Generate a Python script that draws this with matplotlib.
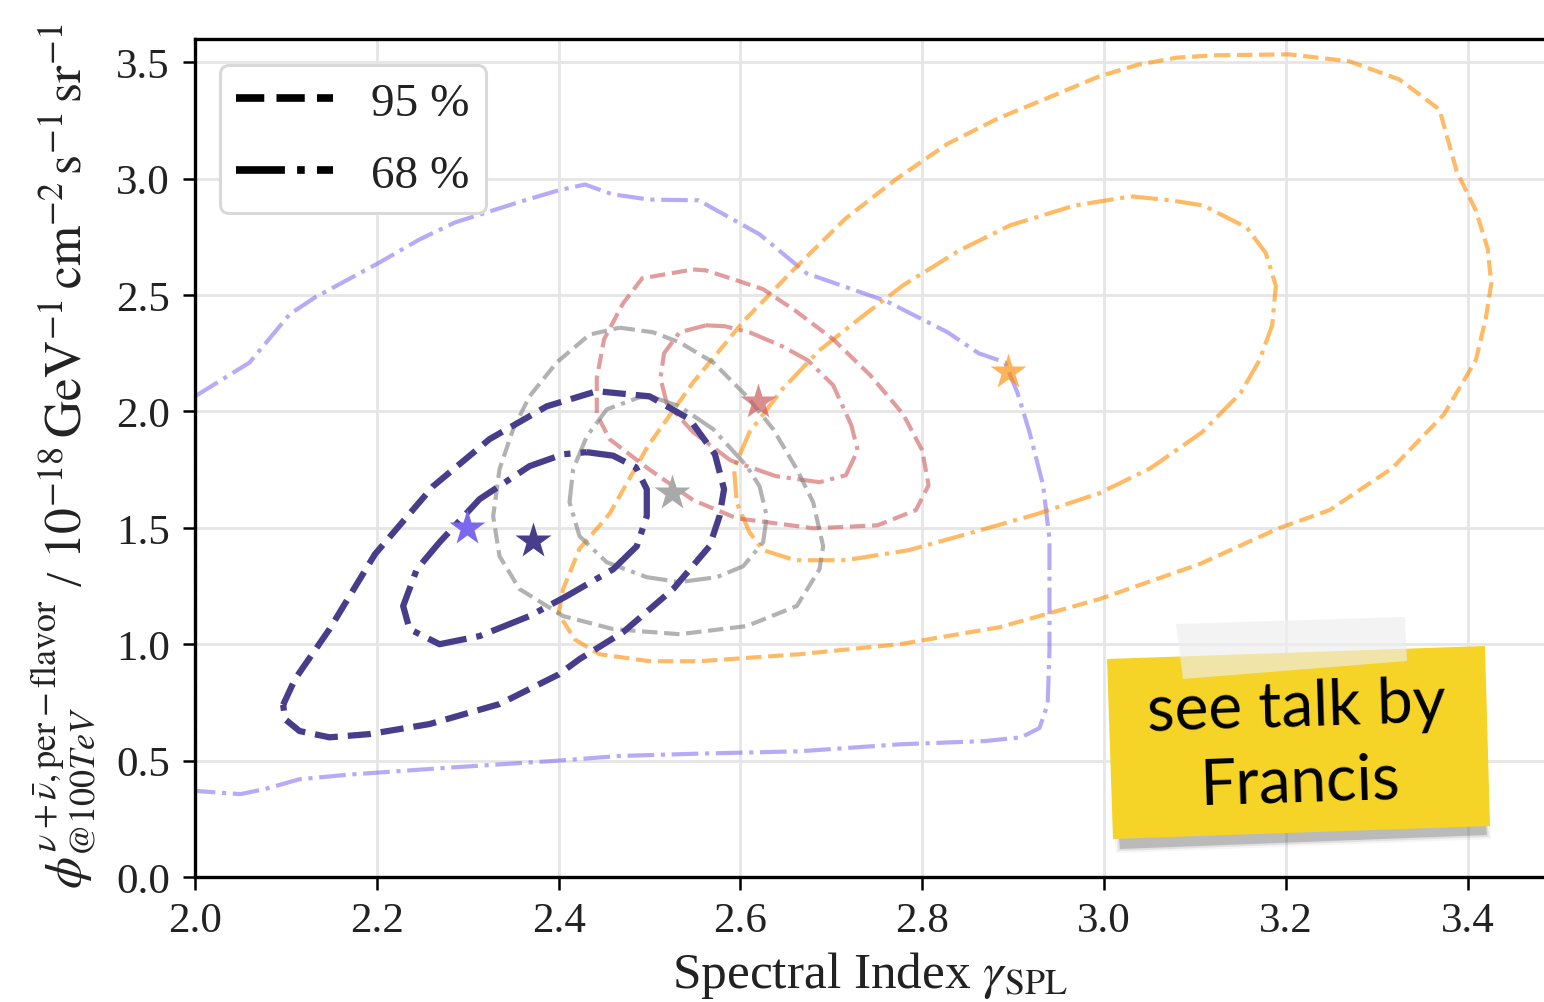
import matplotlib
matplotlib.use("Agg")
import matplotlib.pyplot as plt
from matplotlib.lines import Line2D
from matplotlib.patches import Polygon

# ==========================================
# CONTOUR DATA (gamma, phi)
# ==========================================

navy95_x = [2.097, 2.110, 2.148, 2.198, 2.262, 2.324, 2.387, 2.442, 2.500, 2.544, 2.572, 2.582,
            2.577, 2.566, 2.526, 2.471, 2.423, 2.400, 2.335, 2.258, 2.192, 2.148, 2.115, 2.099]
navy95_y = [0.740, 0.850, 1.065, 1.387, 1.679, 1.881, 2.022, 2.087, 2.065, 1.967, 1.816, 1.666,
            1.550, 1.421, 1.237, 1.052, 0.936, 0.870, 0.743, 0.657, 0.614, 0.600, 0.627, 0.678]

navy68_x = [2.431, 2.460, 2.485, 2.497, 2.497, 2.486, 2.460, 2.409, 2.368, 2.313, 2.269, 2.236,
            2.229, 2.244, 2.269, 2.313, 2.368, 2.405]
navy68_y = [1.825, 1.810, 1.760, 1.666, 1.550, 1.421, 1.322, 1.207, 1.121, 1.035, 1.000, 1.065,
            1.164, 1.322, 1.438, 1.623, 1.765, 1.816]

lp68_x = [2.000, 2.060, 2.077, 2.104, 2.132, 2.203, 2.247, 2.286, 2.357, 2.400, 2.429, 2.459,
          2.500, 2.554, 2.621, 2.673, 2.761, 2.828, 2.862, 2.891, 2.905, 2.918, 2.933, 2.940,
          2.940, 2.940, 2.938, 2.929, 2.909, 2.869, 2.775, 2.665, 2.555, 2.467, 2.400, 2.280,
          2.170, 2.115, 2.077, 2.050, 2.000]
lp68_y = [2.065, 2.210, 2.290, 2.417, 2.490, 2.640, 2.739, 2.812, 2.900, 2.950, 2.975, 2.933,
          2.910, 2.907, 2.761, 2.593, 2.473, 2.340, 2.250, 2.211, 2.078, 1.911, 1.683, 1.451,
          1.194, 0.980, 0.743, 0.640, 0.600, 0.584, 0.570, 0.540, 0.530, 0.520, 0.500, 0.470,
          0.440, 0.420, 0.378, 0.356, 0.370]

gray95_x = [2.467, 2.504, 2.533, 2.570, 2.607, 2.636, 2.662, 2.680, 2.691, 2.687, 2.662, 2.607,
            2.533, 2.460, 2.405, 2.357, 2.335, 2.328, 2.335, 2.350, 2.368, 2.398, 2.434]
gray95_y = [2.360, 2.340, 2.297, 2.211, 2.065, 1.924, 1.752, 1.610, 1.421, 1.322, 1.164, 1.078,
            1.043, 1.065, 1.121, 1.237, 1.378, 1.550, 1.752, 1.924, 2.065, 2.211, 2.330]

gray68_x = [2.504, 2.533, 2.570, 2.607, 2.621, 2.629, 2.625, 2.603, 2.574, 2.533, 2.497, 2.453,
            2.423, 2.412, 2.416, 2.431, 2.453, 2.489]
gray68_y = [2.061, 2.022, 1.924, 1.765, 1.679, 1.550, 1.438, 1.335, 1.288, 1.267, 1.288, 1.352,
            1.464, 1.610, 1.752, 1.893, 2.009, 2.061]

pink95_x = [2.548, 2.562, 2.589, 2.625, 2.660, 2.702, 2.743, 2.779, 2.800, 2.807, 2.793, 2.751,
            2.681, 2.596, 2.548, 2.498, 2.456, 2.442, 2.442, 2.450, 2.471, 2.492]
pink95_y = [2.610, 2.606, 2.572, 2.525, 2.434, 2.310, 2.155, 1.988, 1.833, 1.683, 1.576, 1.511,
            1.498, 1.541, 1.619, 1.756, 1.881, 1.988, 2.143, 2.310, 2.465, 2.572]

pink68_x = [2.562, 2.583, 2.610, 2.646, 2.674, 2.702, 2.722, 2.729, 2.716, 2.687, 2.639, 2.589,
            2.548, 2.519, 2.512, 2.516, 2.533]
pink68_y = [2.370, 2.366, 2.340, 2.280, 2.220, 2.113, 1.941, 1.833, 1.726, 1.696, 1.722, 1.790,
            1.911, 2.035, 2.143, 2.250, 2.340]

orange95_x = [3.122, 3.204, 3.270, 3.325, 3.369, 3.388, 3.409, 3.422, 3.426, 3.420, 3.409, 3.374,
              3.317, 3.248, 3.192, 3.105, 2.995, 2.885, 2.775, 2.665, 2.555, 2.500, 2.445, 2.418,
              2.400, 2.405, 2.423, 2.456, 2.498, 2.548, 2.604, 2.660, 2.716, 2.772, 2.828, 2.884,
              2.940, 2.995, 3.038, 3.080]
orange95_y = [3.530, 3.534, 3.504, 3.426, 3.297, 3.031, 2.864, 2.700, 2.550, 2.400, 2.220, 1.988,
              1.756, 1.576, 1.498, 1.344, 1.194, 1.073, 1.000, 0.957, 0.927, 0.927, 0.957, 1.020,
              1.130, 1.237, 1.410, 1.560, 1.850, 2.125, 2.390, 2.615, 2.830, 3.000, 3.150, 3.260,
              3.350, 3.440, 3.490, 3.520]

orange68_x = [3.030, 3.073, 3.109, 3.157, 3.178, 3.189, 3.185, 3.171, 3.150, 3.108, 3.051, 2.995,
              2.926, 2.856, 2.785, 2.716, 2.660, 2.625, 2.610, 2.596, 2.593, 2.610, 2.646, 2.687,
              2.737, 2.779, 2.841, 2.897, 2.968]
orange68_y = [2.924, 2.907, 2.885, 2.790, 2.680, 2.540, 2.370, 2.220, 2.078, 1.911, 1.756, 1.649,
              1.559, 1.481, 1.404, 1.361, 1.361, 1.404, 1.481, 1.606, 1.756, 1.911, 2.095, 2.263,
              2.417, 2.542, 2.692, 2.800, 2.885]

# best fit points
best_x = [2.299, 2.372, 2.525, 2.619, 2.894]
best_y = [1.499, 1.443, 1.649, 2.040, 2.168]
best_colors = ["mediumslateblue", "darkslateblue", "darkgray", "indianred", "darkorange"]
best_alpha = [1.0, 1.0, 1.0, 0.7, 0.65]

legend_labels = ["95 %", "68 %"]


def closed(xs, ys):
    return xs + xs[:1], ys + ys[:1]


# ==========================================
# STYLE
# ==========================================

plt.rcParams["font.family"] = "serif"
plt.rcParams["font.serif"] = ["Liberation Serif", "DejaVu Serif"]
plt.rcParams["mathtext.fontset"] = "stix"

fig = plt.figure(figsize=(15.44, 10.03), dpi=100)
ax = fig.add_axes([195 / 1544, 1 - 878 / 1003, 1 - 195 / 1544, (878 - 40) / 1003])

ax.grid(True, color="#e6e6e6", linewidth=2.0, zorder=0)
ax.set_axisbelow(True)

# ==========================================
# CONTOURS
# ==========================================

thin = 3.0

ax.plot(*closed(lp68_x, lp68_y), color="mediumslateblue", alpha=0.55, lw=thin, ls="-.")

ax.plot(*closed(orange95_x, orange95_y), color="darkorange", alpha=0.6, lw=thin, ls="--")
ax.plot(*closed(orange68_x, orange68_y), color="darkorange", alpha=0.6, lw=thin, ls="-.")

ax.plot(*closed(pink95_x, pink95_y), color="indianred", alpha=0.6, lw=thin, ls="--")
ax.plot(*closed(pink68_x, pink68_y), color="indianred", alpha=0.6, lw=thin, ls="-.")

ax.plot(*closed(gray95_x, gray95_y), color="gray", alpha=0.6, lw=thin, ls="--")
ax.plot(*closed(gray68_x, gray68_y), color="gray", alpha=0.6, lw=thin, ls="-.")

ax.plot(*closed(navy95_x, navy95_y), color="darkslateblue", lw=4.5, ls="--")
ax.plot(*closed(navy68_x, navy68_y), color="darkslateblue", lw=4.5, ls="-.")

for bx, by, c, a in zip(best_x, best_y, best_colors, best_alpha):
    ax.plot(bx, by, marker="*", ms=27, color=c, alpha=a, mec="none", zorder=5)

# ==========================================
# AXES
# ==========================================

ax.set_xlim(2.0, 3.484)
ax.set_ylim(0.0, 3.6)
ax.set_xticks([2.0, 2.2, 2.4, 2.6, 2.8, 3.0, 3.2, 3.4])
ax.set_yticks([0.0, 0.5, 1.0, 1.5, 2.0, 2.5, 3.0, 3.5])
ax.tick_params(labelsize=31, length=9, width=1.8, direction="out", pad=9,
               colors="black", labelcolor="#222222")

for side in ["left", "bottom", "top"]:
    ax.spines[side].set_linewidth(2.4)
    ax.spines[side].set_color("black")
ax.spines["right"].set_visible(False)

ax.set_xlabel(r"Spectral Index $\gamma_{\mathrm{SPL}}$", fontsize=37, labelpad=6, color="#222222")

fig.text(64 / 1544, 1 - 456 / 1003,
         r"$\phi^{\nu+\bar{\nu},\mathrm{per-flavor}}_{@100TeV}$ / "
         r"$10^{-18}\,\mathrm{GeV}^{-1}\,\mathrm{cm}^{-2}\,\mathrm{s}^{-1}\,\mathrm{sr}^{-1}$",
         rotation=90, fontsize=37, ha="center", va="center", color="#222222")

handles = [
    Line2D([], [], color="black", lw=5.5, ls="--"),
    Line2D([], [], color="black", lw=5.5, ls="-."),
]
leg = ax.legend(handles, legend_labels, loc="upper left", fontsize=34,
                handlelength=2.05, handletextpad=0.8, borderpad=0.35, labelspacing=0.62,
                borderaxespad=0.0, bbox_to_anchor=(0.0185, 0.969), frameon=True, fancybox=True)
leg.get_frame().set_edgecolor("#d9d9d9")
leg.get_frame().set_linewidth(2.2)
leg.get_frame().set_alpha(1.0)
for t in leg.get_texts():
    t.set_color("#222222")

# ==========================================
# STICKY NOTE
# ==========================================


def fig_xy(points):
    return [(px / 1544, 1 - py / 1003) for px, py in points]


shadow = [(1118, 828), (1485, 814), (1487, 836), (1120, 850)]
for grow, a in [(4, 0.06), (2, 0.12), (0, 0.28)]:
    pts = [(shadow[0][0] - grow, shadow[0][1]), (shadow[1][0] + grow, shadow[1][1]),
           (shadow[2][0] + grow, shadow[2][1] + grow), (shadow[3][0] - grow, shadow[3][1] + grow)]
    fig.patches.append(Polygon(fig_xy(pts), closed=True, transform=fig.transFigure,
                               facecolor="#555555", edgecolor="none", alpha=a, zorder=10))

note = [(1107, 660), (1485, 647), (1490, 827), (1113, 840)]
fig.patches.append(Polygon(fig_xy(note), closed=True, transform=fig.transFigure,
                           facecolor="#f5d327", edgecolor="none", zorder=11))

tape = [(1176, 625), (1405, 618), (1407, 662), (1183, 680)]
fig.patches.append(Polygon(fig_xy(tape), closed=True, transform=fig.transFigure,
                           facecolor="#eeeeee", edgecolor="none", alpha=0.65, zorder=12))

fig.text(1298 / 1544, 1 - 746 / 1003, "see talk by\nFrancis", fontsize=46,
         family=["Lato", "DejaVu Sans"], ha="center", va="center", multialignment="center",
         rotation=1.8, linespacing=1.35, color="black", zorder=13)

fig.savefig("out.png", dpi=100)
